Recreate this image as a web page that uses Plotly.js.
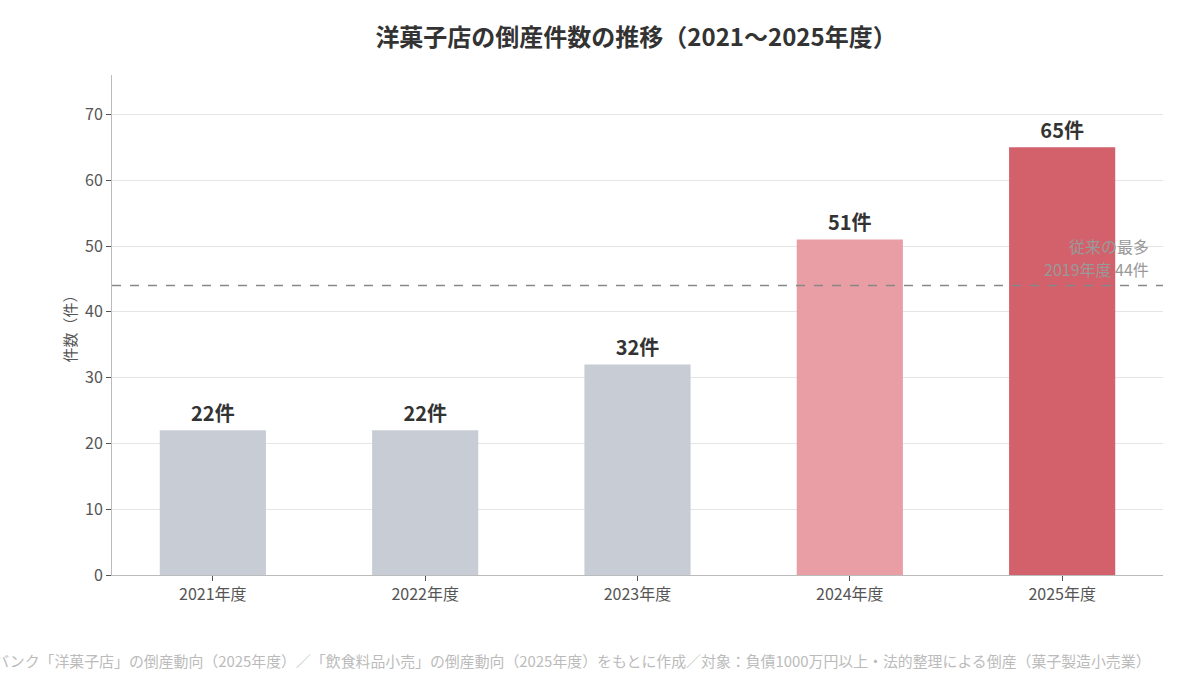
<!DOCTYPE html>
<html>
<head>
<meta charset="utf-8">
<script src="https://cdn.plot.ly/plotly-3.0.1.min.js"></script>
<style>
  html, body { margin: 0; padding: 0; background: #fff; }
  #plot { width: 1180px; height: 680px; }
</style>
</head>
<body>
<div id="plot"></div>
<script>
var years = ["2021年度", "2022年度", "2023年度", "2024年度", "2025年度"];
var counts = [22, 22, 32, 51, 65];
var barColors = ["#c8ccd5", "#c8ccd5", "#c8ccd5", "#e89ea4", "#d2616b"];
var prevMax = 44;
var prevMaxLines = ["従来の最多", "2019年度 44件"];
var source = "出典：帝国データバンク「洋菓子店」の倒産動向（2025年度）／「飲食料品小売」の倒産動向（2025年度）をもとに作成／対象：負債1000万円以上・法的整理による倒産（菓子製造小売業）";

var font = "'Noto Sans CJK JP', 'Noto Sans', sans-serif";

var labels = [];
for (var i = 0; i < counts.length; i++) {
  labels.push(counts[i] + "件");
}

var trace = {
  x: years,
  y: counts,
  type: "bar",
  width: 0.5,
  marker: { color: barColors },
  text: labels,
  textposition: "outside",
  textfont: { family: font, size: 20, color: "#333", weight: "bold" },
  cliponaxis: false,
  hoverinfo: "skip"
};

// note beside the old-record line, one annotation per line for even spacing
var notes = [];
for (var j = 0; j < prevMaxLines.length; j++) {
  notes.push({
    xref: "paper", x: 0.9885, xanchor: "right",
    yref: "y", y: prevMax, yanchor: "bottom",
    text: prevMaxLines[j], align: "right", showarrow: false,
    font: { size: 16, color: "#999" },
    yshift: 3 + 23 * (prevMaxLines.length - 1 - j)
  });
}
notes.push({
  xref: "paper", x: 0.9905, xanchor: "right",
  yref: "paper", y: -0.17, yanchor: "middle",
  text: source,
  showarrow: false,
  font: { size: 14.9, color: "#bbb" }
});

var layout = {
  width: 1180,
  height: 680,
  margin: { l: 112, r: 17, t: 75, b: 105 },
  paper_bgcolor: "#fff",
  plot_bgcolor: "#fff",
  font: { family: font, color: "#555" },
  title: {
    text: "<b>洋菓子店の倒産件数の推移（2021〜2025年度）</b>",
    font: { family: font, size: 24, color: "#333" },
    x: 0.539, xanchor: "center", y: 0.945, yanchor: "middle"
  },
  xaxis: {
    range: [-0.475, 4.475],
    showline: true, linecolor: "#bbb", linewidth: 1,
    ticks: "outside", ticklen: 5, tickcolor: "#555",
    tickfont: { size: 16, color: "#555" },
    showgrid: false
  },
  yaxis: {
    range: [0, 76],
    dtick: 10,
    showline: true, linecolor: "#bbb", linewidth: 1,
    ticks: "outside", ticklen: 5, tickcolor: "#555",
    tickfont: { size: 16, color: "#555" },
    gridcolor: "#e5e5e5",
    zeroline: false,
    title: { text: "件数（件）", font: { size: 15, color: "#555" }, standoff: 4 }
  },
  shapes: [{
    type: "line", xref: "paper", x0: 0, x1: 1,
    yref: "y", y0: prevMax, y1: prevMax,
    line: { color: "#888", width: 1.5, dash: "dash" },
    layer: "above"
  }],
  annotations: notes,
  showlegend: false
};

Plotly.newPlot("plot", [trace], layout, { displayModeBar: false, staticPlot: true });
</script>
</body>
</html>
